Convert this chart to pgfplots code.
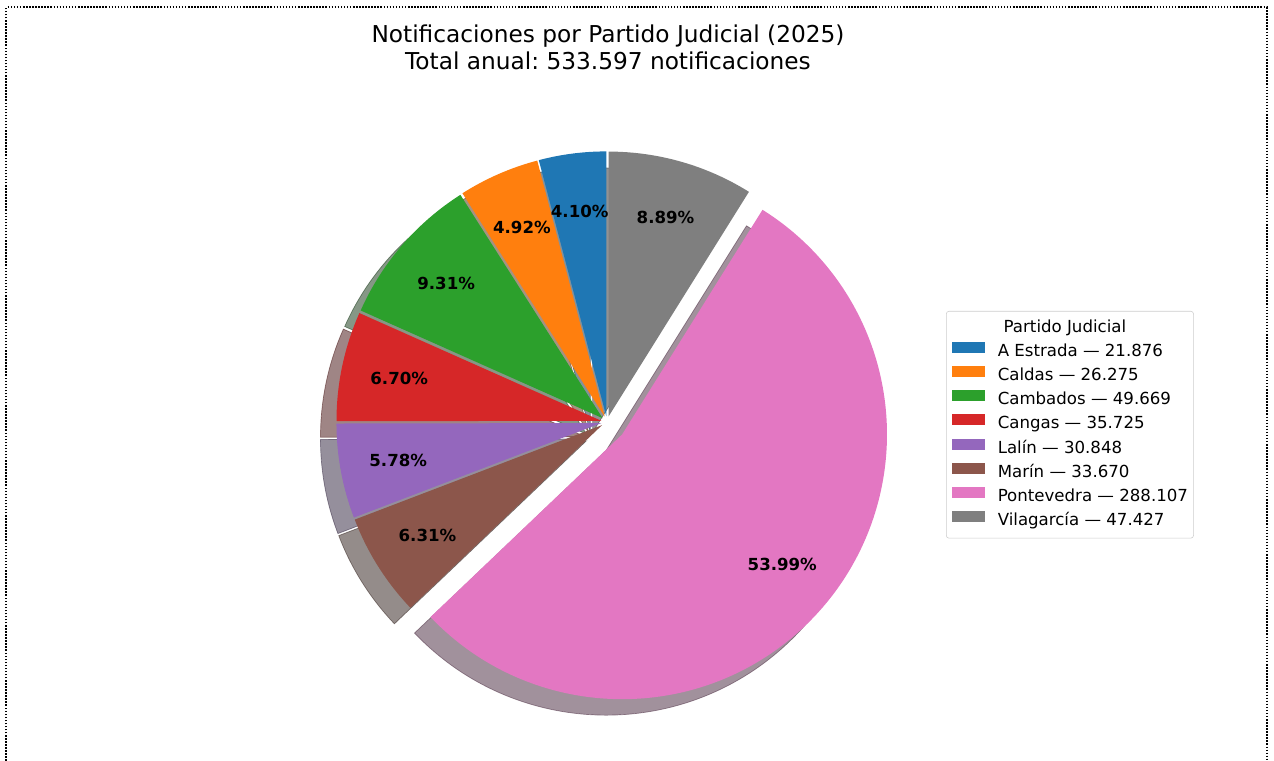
\documentclass[border=0pt]{standalone}
\usepackage{fontspec}
\setmainfont{DejaVu Sans}
\usepackage{pgfplots}
\usepackage{pgfplotstable}
\pgfplotsset{compat=1.18}
\frenchspacing

\definecolor{pie0}{HTML}{1F77B4}
\definecolor{pie1}{HTML}{FF7F0E}
\definecolor{pie2}{HTML}{2CA02C}
\definecolor{pie3}{HTML}{D62728}
\definecolor{pie4}{HTML}{9467BD}
\definecolor{pie5}{HTML}{8C564B}
\definecolor{pie6}{HTML}{E377C2}
\definecolor{pie7}{HTML}{7F7F7F}

% notificaciones en miles; expl = desplazamiento relativo al radio
\pgfplotstableread[col sep=comma]{
name,val,expl
A Estrada,21.876,0.022
Caldas,26.275,0.022
Cambados,49.669,0.022
Cangas,35.725,0.022
Lalín,30.848,0.022
Marín,33.670,0.022
Pontevedra,288.107,0.074
Vilagarcía,47.427,0.022
}\notif

% geometry in pixel units of the axis (1 unit = 0.72bp)
\def\Rpx{264.8}
\def\Rbp{190.656bp}
\def\cxp{607}
\def\cyp{339}

\def\tot{0}
\foreach \i in {0,...,7}{%
  \pgfplotstablegetelem{\i}{val}\of\notif
  \pgfmathsetmacro\tmp{\tot+\pgfplotsretval}%
  \xdef\tot{\tmp}}

\def\cum{0}
\foreach \i in {0,...,7}{%
  \pgfplotstablegetelem{\i}{val}\of\notif \edef\myv{\pgfplotsretval}%
  \pgfplotstablegetelem{\i}{expl}\of\notif \edef\mye{\pgfplotsretval}%
  \pgfplotstablegetelem{\i}{name}\of\notif \edef\myn{\pgfplotsretval}%
  \pgfmathsetmacro\aS{90+\cum/\tot*360}%
  \pgfmathsetmacro\aE{90+(\cum+\myv)/\tot*360}%
  \pgfmathsetmacro\aM{(\aS+\aE)/2}%
  \pgfmathsetmacro\X{\cxp+\mye*\Rpx*cos(\aM)}%
  \pgfmathsetmacro\Y{\cyp+\mye*\Rpx*sin(\aM)}%
  \pgfmathsetmacro\LX{\X+0.78*\Rpx*cos(\aM)}%
  \pgfmathsetmacro\LY{\Y+0.78*\Rpx*sin(\aM)}%
  \pgfmathsetmacro\SX{\X-16}%
  \pgfmathsetmacro\SY{\Y-16}%
  \pgfmathsetmacro\P{\myv/\tot*100}%
  \pgfmathsetmacro\nc{\cum+\myv}%
  \xdef\cum{\nc}%
  \expandafter\xdef\csname pieS\i\endcsname{\aS}%
  \expandafter\xdef\csname pieE\i\endcsname{\aE}%
  \expandafter\xdef\csname pieX\i\endcsname{\X}%
  \expandafter\xdef\csname pieY\i\endcsname{\Y}%
  \expandafter\xdef\csname pieSX\i\endcsname{\SX}%
  \expandafter\xdef\csname pieSY\i\endcsname{\SY}%
  \expandafter\xdef\csname pieLX\i\endcsname{\LX}%
  \expandafter\xdef\csname pieLY\i\endcsname{\LY}%
  \expandafter\xdef\csname pieP\i\endcsname{\P}%
  \expandafter\xdef\csname pieN\i\endcsname{\myn}%
  \expandafter\xdef\csname pieV\i\endcsname{\myv}%
}

\pgfplotsset{
  piepatch/.style={legend image code/.code={\fill[##1, sharp corners] (0pt,-0.4pt) rectangle (23.8pt,7.5pt);}},
}

\begin{document}
\begin{tikzpicture}
\useasboundingbox (0,0) rectangle (917.28bp,547.92bp);
\begin{axis}[
  at={(0,0)}, anchor=south west,
  width=917.28bp, height=547.92bp, scale only axis,
  xmin=0, xmax=1274, ymin=0, ymax=761,
  hide axis, clip=false,
  legend cell align=left,
  legend style={
    at={(axis cs:946,450)}, anchor=north west,
    draw=black!20, rounded corners=2pt, fill=white,
    font=\fontsize{12}{14}\selectfont,
    inner xsep=4pt, inner ysep=6pt,
    row sep=4.0pt,
    nodes={inner sep=0pt, text height=9pt, text depth=3pt},
    /tikz/every odd column/.append style={column sep=9.4pt},
  },
]
  % frame
  \draw[black, line width=1.44bp, dash pattern=on 1.1bp off 1.1bp]
    (axis cs:6.5,0) -- (axis cs:6.5,753.5) -- (axis cs:1267,753.5) -- (axis cs:1267,0);

  % title
  \node[align=center, font=\fontsize{16.8}{19.4}\selectfont]
    at (axis cs:608,714) {Notificaciones por Partido Judicial (2025)\\Total anual: 533.597 notificaciones};

  % shadows
  \pgfplotsinvokeforeach{0,...,7}{
    \filldraw[fill=pie#1!30!black, draw=pie#1!30!black, line width=0.5bp, opacity=0.5]
      (axis cs:\csname pieSX#1\endcsname,\csname pieSY#1\endcsname)
      -- ++(\csname pieS#1\endcsname:\Rbp)
      arc[start angle=\csname pieS#1\endcsname, end angle=\csname pieE#1\endcsname, radius=\Rbp]
      -- cycle;
  }
  % wedges
  \pgfplotsinvokeforeach{0,...,7}{
    \fill[pie#1]
      (axis cs:\csname pieX#1\endcsname,\csname pieY#1\endcsname)
      -- ++(\csname pieS#1\endcsname:\Rbp)
      arc[start angle=\csname pieS#1\endcsname, end angle=\csname pieE#1\endcsname, radius=\Rbp]
      -- cycle;
  }
  % percentages
  \pgfplotsinvokeforeach{0,...,7}{
    \node[font=\fontsize{12}{14}\selectfont\bfseries]
      at (axis cs:\csname pieLX#1\endcsname,\csname pieLY#1\endcsname)
      {\pgfmathprintnumber[fixed,fixed zerofill,precision=2,assume math mode=true]{\csname pieP#1\endcsname}\%};
  }

  % legend
  \addlegendimage{empty legend}
  \addlegendentry{\hspace*{4.3pt}Partido Judicial}
  \pgfplotsinvokeforeach{0,...,7}{
    \addlegendimage{fill=pie#1, draw=none, piepatch}
    \addlegendentry{\csname pieN#1\endcsname{} — \csname pieV#1\endcsname}
  }
\end{axis}
\end{tikzpicture}
\end{document}
